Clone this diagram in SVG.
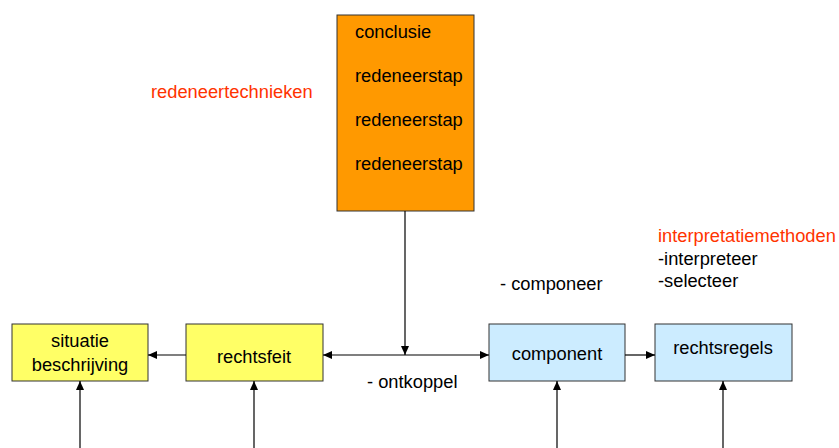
<svg xmlns="http://www.w3.org/2000/svg" width="839" height="448" viewBox="0 0 839 448">
<style>
text{font-family:"Liberation Sans",Arial,sans-serif;font-size:18.3px;fill:#000}
.red{fill:#FF3300}
.box{stroke:#333;stroke-width:1}
.c{text-anchor:middle}
.ln{stroke:#000;stroke-width:1.2;fill:none}
</style>
<defs>
<marker id="ah" markerWidth="10" markerHeight="10" refX="9" refY="5" orient="auto" markerUnits="userSpaceOnUse">
<path d="M0,1 L9,5 L0,9 Z" fill="#000"/>
</marker>
</defs>
<rect width="839" height="448" fill="#fff"/>
<g id="redeneer">
<rect class="box" x="337" y="15" width="137" height="196" fill="#FF9900"/>
<text x="355" y="38">conclusie</text>
<text x="355" y="82">redeneerstap</text>
<text x="355" y="126">redeneerstap</text>
<text x="355" y="170">redeneerstap</text>
</g>
<g id="situatie">
<rect class="box" x="12" y="324" width="136" height="57" fill="#FFFF66"/>
<text class="c" x="80" y="347">situatie</text>
<text class="c" x="80" y="371">beschrijving</text>
</g>
<g id="rechtsfeit">
<rect class="box" x="186" y="324" width="137" height="57" fill="#FFFF66"/>
<text class="c" x="254" y="363">rechtsfeit</text>
</g>
<g id="component">
<rect class="box" x="489" y="324" width="136" height="57" fill="#CCECFF"/>
<text class="c" x="557" y="360">component</text>
</g>
<g id="rechtsregels">
<rect class="box" x="655" y="324" width="137" height="57" fill="#CCECFF"/>
<text class="c" x="723" y="354">rechtsregels</text>
</g>
<g id="labels">
<text class="red" x="151" y="98">redeneertechnieken</text>
<text class="red" x="658" y="242">interpretatiemethoden</text>
<text x="658" y="265">-interpreteer</text>
<text x="658" y="287">-selecteer</text>
<text x="500" y="290">-  componeer</text>
<text x="367" y="388">- ontkoppel</text>
</g>
<g id="connectors">
<line class="ln" x1="405" y1="211" x2="405" y2="355" marker-end="url(#ah)"/>
<line class="ln" x1="405" y1="355" x2="323" y2="355" marker-end="url(#ah)"/>
<line class="ln" x1="405" y1="355" x2="489" y2="355" marker-end="url(#ah)"/>
<line class="ln" x1="186" y1="355" x2="148" y2="355" marker-end="url(#ah)"/>
<line class="ln" x1="625" y1="355" x2="655" y2="355" marker-end="url(#ah)"/>
<line class="ln" x1="80" y1="448" x2="80" y2="381" marker-end="url(#ah)"/>
<line class="ln" x1="254" y1="448" x2="254" y2="381" marker-end="url(#ah)"/>
<line class="ln" x1="557" y1="448" x2="557" y2="381" marker-end="url(#ah)"/>
<line class="ln" x1="723" y1="448" x2="723" y2="381" marker-end="url(#ah)"/>
</g>
</svg>
